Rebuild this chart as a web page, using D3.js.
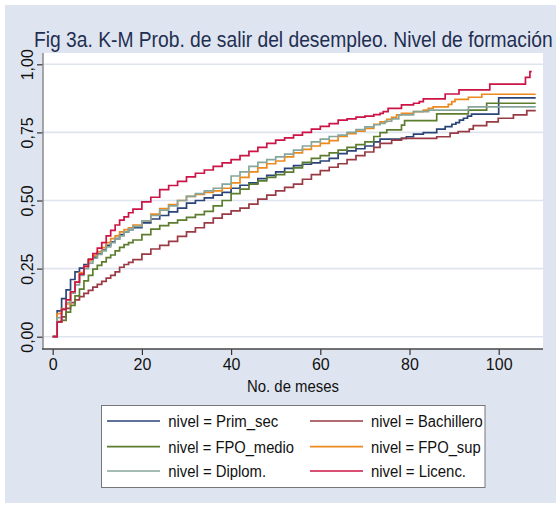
<!DOCTYPE html>
<html>
<head>
<meta charset="utf-8">
<script src="https://cdn.jsdelivr.net/npm/d3@7/dist/d3.min.js"></script>
<style>
  html, body { margin: 0; padding: 0; background: #ffffff; }
  svg { display: block; }
  text { font-family: "Liberation Sans Narrow", "Liberation Sans", Arial, sans-serif; }
</style>
</head>
<body>
<svg id="chart" width="558" height="506"></svg>
<script>
// ---------------- DATA ----------------
const titleText = "Fig 3a. K-M Prob. de salir del desempleo. Nivel de formación";
const xLabel = "No. de meses";
const xTicks = [0, 20, 40, 60, 80, 100];
const yTicks = [0, 0.25, 0.5, 0.75, 1];
const yTickLabels = ["0,00", "0,25", "0,50", "0,75", "1,00"];

const seriesNames = ["nivel = Prim_sec", "nivel = Bachillero", "nivel = FPO_medio",
                     "nivel = FPO_sup", "nivel = Diplom.", "nivel = Licenc."];
const seriesColors = ["#2a4478", "#9a3a44", "#5c7d2e", "#ec8a1e", "#86a69c", "#cc1446"];
const seriesEnd = [108.3, 108.3, 108.3, 108.3, 108.3, 107.4];

// [month, survival-complement] step points
const primSec = [[0,0],[1,0.095],[2,0.14],[3,0.172],[4,0.21],[5,0.238],[6,0.252],[7,0.265],[8,0.28],[9,0.292],[10,0.305],[11,0.318],[12,0.335],[13,0.348],[14,0.36],[15,0.375],[16,0.385],[17,0.393],[18,0.40],[20,0.418],[22,0.432],[24,0.445],[26,0.458],[28,0.472],[30,0.49],[32,0.50],[34,0.51],[36,0.52],[38,0.53],[40,0.545],[42,0.556],[44,0.565],[46,0.58],[48,0.592],[50,0.605],[52,0.618],[54,0.628],[56,0.633],[58,0.638],[60,0.645],[62,0.655],[64,0.672],[66,0.682],[68,0.69],[70,0.70],[72,0.715],[73.4,0.725],[78.2,0.728],[79.3,0.734],[80.9,0.744],[83.1,0.749],[86.1,0.762],[88,0.771],[89.5,0.78],[90.4,0.786],[91.2,0.795],[92.1,0.802],[93,0.81],[93.9,0.817],[100,0.877]];
const bachillero = [[0,0],[1,0.055],[2,0.073],[3,0.104],[4,0.125],[5,0.135],[6,0.147],[7,0.159],[8,0.17],[9,0.182],[10,0.192],[11,0.203],[12,0.215],[13,0.225],[14,0.238],[15,0.255],[16,0.265],[17,0.273],[18,0.283],[20,0.303],[22,0.322],[24,0.335],[26,0.35],[28,0.368],[30,0.385],[32,0.40],[34,0.418],[36,0.435],[38,0.45],[40,0.462],[42,0.472],[44,0.487],[46,0.505],[48,0.52],[50,0.535],[52,0.548],[54,0.56],[56,0.578],[58,0.595],[60,0.61],[62,0.622],[64,0.635],[66,0.65],[68,0.665],[70,0.678],[72,0.695],[73.4,0.71],[76,0.722],[78.2,0.728],[86.1,0.734],[89.1,0.747],[90.9,0.753],[93.4,0.762],[94.3,0.775],[97.3,0.789],[99.9,0.802],[103.3,0.814],[106.3,0.83]];
const fpoMedio = [[0,0],[1,0.054],[2,0.06],[3,0.09],[4,0.115],[5,0.15],[6,0.175],[7,0.205],[8,0.225],[9,0.248],[10,0.262],[11,0.275],[12,0.29],[13,0.30],[14,0.315],[15,0.328],[16,0.338],[17,0.345],[18,0.355],[20,0.375],[22,0.395],[24,0.408],[26,0.418],[28,0.428],[30,0.438],[32,0.448],[34,0.46],[36,0.48],[38,0.5],[40,0.525],[42,0.542],[44,0.56],[46,0.572],[48,0.585],[50,0.595],[52,0.604],[54,0.62],[56,0.64],[58,0.655],[60,0.665],[62,0.675],[64,0.685],[66,0.695],[68,0.705],[70,0.715],[72,0.735],[73.4,0.749],[74.9,0.759],[78.2,0.777],[78.9,0.793],[86.1,0.818],[93.2,0.832],[97.3,0.857]];
const fpoSup = [[0,0],[1,0.085],[2,0.103],[3,0.12],[4,0.16],[5,0.2],[6,0.235],[7,0.258],[8,0.28],[9,0.298],[10,0.312],[11,0.327],[12,0.345],[13,0.36],[14,0.37],[15,0.385],[16,0.393],[17,0.40],[18,0.41],[20,0.425],[22,0.45],[24,0.47],[26,0.485],[28,0.50],[30,0.515],[32,0.522],[34,0.53],[36,0.535],[38,0.545],[40,0.565],[42,0.585],[44,0.605],[46,0.62],[48,0.635],[50,0.645],[52,0.66],[54,0.675],[56,0.688],[58,0.70],[60,0.71],[62,0.72],[64,0.735],[66,0.745],[68,0.755],[70,0.765],[72,0.78],[73.4,0.789],[74.9,0.798],[76,0.805],[77.1,0.814],[78.2,0.82],[80.9,0.826],[83.1,0.832],[84.2,0.838],[85.3,0.844],[88.7,0.853],[89.5,0.863],[90.2,0.871],[93.2,0.879],[96.2,0.89]];
const diplom = [[0,0],[1,0.07],[2,0.10],[3,0.125],[4,0.16],[5,0.19],[6,0.225],[7,0.25],[8,0.27],[9,0.288],[10,0.302],[11,0.315],[12,0.33],[13,0.345],[14,0.36],[15,0.37],[16,0.385],[17,0.395],[18,0.405],[20,0.425],[22,0.445],[24,0.465],[26,0.48],[28,0.50],[30,0.515],[32,0.525],[34,0.535],[36,0.545],[38,0.56],[40,0.59],[42,0.605],[44,0.625],[46,0.64],[48,0.65],[50,0.66],[52,0.67],[54,0.685],[56,0.70],[58,0.715],[60,0.725],[62,0.735],[64,0.74],[66,0.75],[68,0.76],[70,0.77],[72,0.778],[73.4,0.783],[74.5,0.791],[76,0.80],[77.6,0.814],[80.9,0.826],[84.3,0.832],[93.2,0.844]];
const licenc = [[0,0],[1,0.054],[2,0.10],[3,0.135],[4,0.165],[5,0.20],[6,0.23],[7,0.258],[8,0.285],[9,0.305],[10,0.325],[11,0.345],[12,0.37],[13,0.39],[14,0.41],[15,0.428],[16,0.44],[17,0.455],[18,0.468],[20,0.495],[22,0.512],[24,0.54],[26,0.555],[28,0.57],[30,0.587],[32,0.60],[34,0.612],[36,0.625],[38,0.638],[40,0.65],[42,0.665],[44,0.68],[46,0.695],[48,0.71],[50,0.722],[52,0.73],[54,0.74],[56,0.75],[58,0.762],[60,0.772],[62,0.782],[64,0.795],[66,0.80],[68,0.806],[70,0.81],[72,0.815],[73.4,0.82],[74.1,0.826],[75.2,0.838],[78.2,0.851],[80.9,0.857],[82.2,0.863],[83.1,0.873],[88,0.891],[91.1,0.906],[98,0.927],[106,0.952],[107,0.973]];

const seriesData = [primSec, bachillero, fpoMedio, fpoSup, diplom, licenc];

// ---------------- DRAW ----------------
const svg = d3.select("#chart");
const W = 558, H = 506;

svg.append("rect").attr("x", 0).attr("y", 0).attr("width", W).attr("height", H).attr("fill", "#ffffff");
svg.append("rect").attr("x", 5).attr("y", 5).attr("width", W - 7).attr("height", H - 8).attr("fill", "#dfe5f0");

const plot = { left: 43, right: 543, top: 53, bottom: 349 };
const x = d3.scaleLinear().domain([0, 100]).range([52.7, 498.7]);
const y = d3.scaleLinear().domain([0, 1]).range([336.7, 64.3]);

svg.append("rect").attr("x", plot.left).attr("y", plot.top)
  .attr("width", plot.right - plot.left).attr("height", plot.bottom - plot.top)
  .attr("fill", "#ffffff");

// grid
svg.append("g").selectAll("line").data(yTicks).join("line")
  .attr("x1", plot.left).attr("x2", plot.right)
  .attr("y1", d => y(d)).attr("y2", d => y(d))
  .attr("stroke", "#dfe4ee").attr("stroke-width", 1.6);

// axes
const xAxis = d3.axisBottom(x).tickValues(xTicks).tickSize(6).tickPadding(4).tickFormat(d3.format("d"));
const gx = svg.append("g").attr("transform", `translate(0,${plot.bottom})`).call(xAxis);
gx.select(".domain").remove();
gx.selectAll(".tick line").attr("stroke", "#333").attr("stroke-width", 1.2);
gx.selectAll(".tick text").attr("font-size", 16).attr("fill", "#111")
  .attr("font-family", "'Liberation Sans Narrow', 'Liberation Sans', Arial, sans-serif");

const yAxis = d3.axisLeft(y).tickValues(yTicks).tickSize(6).tickPadding(0)
  .tickFormat((d, i) => yTickLabels[i]);
const gy = svg.append("g").attr("transform", `translate(${plot.left},0)`).call(yAxis);
gy.select(".domain").remove();
gy.selectAll(".tick line").attr("stroke", "#333").attr("stroke-width", 1.2);
gy.selectAll(".tick text")
  .attr("font-size", 16).attr("fill", "#111")
  .attr("font-family", "'Liberation Sans Narrow', 'Liberation Sans', Arial, sans-serif")
  .attr("text-anchor", "middle").attr("dy", 0)
  .attr("x", 0)
  .attr("transform", "translate(-10,0) rotate(-90)");

// axis lines
svg.append("line").attr("x1", plot.left).attr("x2", plot.left)
  .attr("y1", plot.top).attr("y2", plot.bottom).attr("stroke", "#8a8a8a").attr("stroke-width", 1.5);
svg.append("line").attr("x1", plot.left - 1).attr("x2", plot.right)
  .attr("y1", plot.bottom).attr("y2", plot.bottom).attr("stroke", "#444").attr("stroke-width", 1.3);

// lines
const line = d3.line().x(d => x(d[0])).y(d => y(d[1])).curve(d3.curveStepAfter);
seriesData.forEach((s, i) => {
  const pts = s.concat([[seriesEnd[i], s[s.length - 1][1]]]);
  svg.append("path").datum(pts)
    .attr("fill", "none").attr("stroke", seriesColors[i])
    .attr("stroke-width", 1.7).attr("d", line);
});

// title (horizontally condensed with a transform so its box stays inside)
const titleG = svg.append("g");
const titleT = titleG.append("text").attr("x", 0).attr("y", 0)
  .attr("font-size", 22).attr("fill", "#1f2f52")
  .text(titleText);
const natW = titleT.node().getComputedTextLength();
const sx = Math.min(1, 519 / natW);
titleG.attr("transform", `translate(34,47) scale(${sx},1)`);

// x label
svg.append("text").attr("x", 293).attr("y", 392).attr("text-anchor", "middle")
  .attr("font-size", 16).attr("fill", "#111")
  .attr("textLength", 92).attr("lengthAdjust", "spacingAndGlyphs")
  .text(xLabel);

// legend
const lg = svg.append("g");
lg.append("rect").attr("x", 101.5).attr("y", 405.5).attr("width", 383.5).attr("height", 82)
  .attr("fill", "#ffffff").attr("stroke", "#777").attr("stroke-width", 1);
const legendWidths = [110, 111.7, 125.7, 109.7, 97.7, 95];
const rowY = [421, 446.7, 471];
seriesNames.forEach((n, i) => {
  const col = i % 2, row = Math.floor(i / 2);
  const lx = col === 0 ? 107 : 310;
  const tx = col === 0 ? 168.3 : 371;
  lg.append("line").attr("x1", lx).attr("x2", lx + 53)
    .attr("y1", rowY[row]).attr("y2", rowY[row])
    .attr("stroke", seriesColors[i]).attr("stroke-width", 1.7);
  lg.append("text").attr("x", tx).attr("y", rowY[row] + 6)
    .attr("font-size", 16).attr("fill", "#111")
    .attr("textLength", legendWidths[i]).attr("lengthAdjust", "spacingAndGlyphs")
    .text(n);
});
</script>
</body>
</html>
